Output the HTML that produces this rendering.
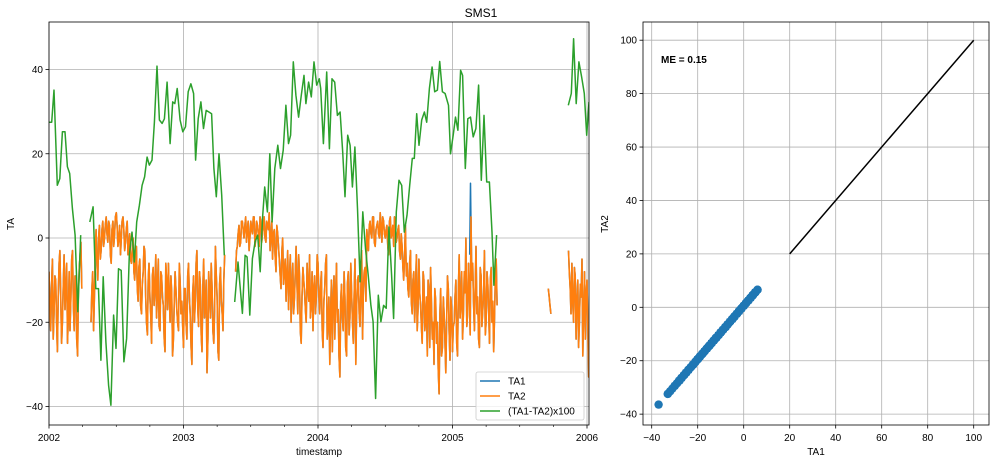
<!DOCTYPE html>
<html><head><meta charset="utf-8"><style>
body{margin:0;background:#fff;}
svg{display:block;font-family:"Liberation Sans","DejaVu Sans",sans-serif;}
</style></head><body>
<svg id="chart" width="996" height="463" viewBox="0 0 996 463" xmlns="http://www.w3.org/2000/svg"></svg>
<script>
// ---- data ----
const ta2Start = 2002.0;
const ta2Step = 0.0125;
const ta2 = [
-8,-22,-5,-18,-10,-27,-6,-15,-20,-4,-12,-25,-8,-14,-3,-22,-10,-28,-7,-1,
null,null,null,null,null,
-20,-8,-14,2,-10,3,-3,4,0,5,-1,3,-6,4,1,6,-2,3,0,5,-3,2,-4,1,
-6,0,-10,-2,-15,-5,-18,-8,-3,-20,-10,-14,-25,-7,-12,-19,-5,-22,-9,-16,-27,-11,-6,-20,-13,-24,-8,-17,-22,-10,-15,-26,
-12,-24,-6,-18,-30,-9,-15,-3,-21,-11,-27,-5,-16,-32,-8,-19,-12,-25,-2,-14,-29,-7,-18,-10,
null,null,null,null,null,null,
-8,-2,3,-1,4,0,5,2,-3,4,1,5,0,3,-2,4,1,5,-1,3,6,0,-5,2,-8,1,
-5,-12,0,-8,-15,-3,-10,-20,-6,-14,-2,-18,-9,-25,-7,-13,-20,-11,-4,-16,-22,-9,-14,-6,
-18,-8,-26,-12,-4,-20,-30,-10,-15,-24,-6,-17,-33,-11,-22,-14,-28,-8,-19,-13,-25,-5,-16,-9,-21,-3,-12,-7,
2,-3,4,0,5,-2,3,1,6,-1,4,0,3,-4,5,1,-2,4,0,3,-5,
-2,-10,3,-6,-14,-3,-18,-8,-12,-22,-5,-16,-25,-10,-19,-28,-13,-7,-24,-30,-15,-20,-37,-12,-26,-18,-32,-9,-22,-14,-27,
-20,-10,-28,-4,-15,-24,-8,0,-18,-12,5,-6,-22,-2,-14,-26,-9,-17,-3,-20,-11,-25,-7,-15,-19,-5,
null,null,null,null,null,null,null,null,null,null,null,null,null,null,null,null,null,null,null,null,null,null,null,null,null,null,null,null,null,null,
-12,-16,
null,null,null,null,null,null,null,null,null,null,
-3,-12,-6,-20,-9,-15,-26,-11,-5,-18,-24,-10,-33
];
// readings taken halfway between the ta2 samples
const ta2Mid = [
-15,-12,-24,-9,-20,-14,-3,-25,-11,-17,-6,-19,-22,-5,-16,-9,-24,-13,-4,-12,
null,null,null,null,null,
-12,-22,-4,-6,0,-5,2,-2,3,1,4,-4,2,-2,5,3,0,-4,4,2,-1,4,-2,-5,
-3,-8,-5,-12,-7,-16,-11,-2,-14,-23,-6,-18,-9,-16,-4,-13,-21,-8,-14,-24,-6,-17,-13,-9,-28,-15,-12,-20,-6,-18,-21,-12,
-20,-9,-14,-26,-13,-20,-6,-17,-8,-23,-12,-19,-10,-24,-14,-6,-22,-17,-9,-27,-11,-15,-22,-4,
null,null,null,null,null,null,
-3,1,-2,4,2,3,-1,4,0,2,5,-2,4,1,5,-1,3,0,4,2,-3,4,1,-4,3,-2,
-9,-3,-11,-5,-9,-17,-4,-12,-18,-8,-11,-4,-22,-14,-10,-17,-6,-15,-19,-8,-12,-18,-4,-13,
-12,-22,-15,-6,-24,-14,-18,-27,-9,-13,-20,-28,-15,-19,-8,-26,-11,-23,-6,-20,-14,-30,-10,-18,-12,-24,-8,-15,
-1,3,1,5,-1,2,4,0,3,5,1,2,-2,4,0,3,5,-1,2,-3,1,
-7,-4,-9,-12,-6,-15,-10,-20,-4,-17,-13,-21,-8,-22,-14,-10,-26,-16,-20,-12,-25,-31,-18,-28,-14,-24,-20,-12,-29,-17,-21,
-14,-25,-12,-19,-8,-18,-13,-21,-6,-23,-10,-15,-12,-18,-24,-7,-21,-13,-23,-8,-17,-10,-20,-27,-9,-16,
null,null,null,null,null,null,null,null,null,null,null,null,null,null,null,null,null,null,null,null,null,null,null,null,null,null,null,null,null,null,
-14,-18,
null,null,null,null,null,null,null,null,null,null,
-8,-18,-15,-7,-24,-10,-20,-14,-28,-8,-13,-21,-26
];
const ta1SpikeT = [2005.128,2005.134,2005.140];
const ta1SpikeV = [-4,13,-3];
const greenT = [
2002.000,2002.020,2002.037,2002.062,2002.080,2002.100,2002.119,2002.137,2002.154,2002.174,2002.194,2002.214,2002.236,null,
2002.303,2002.328,2002.348,2002.368,2002.386,2002.403,2002.423,2002.443,2002.460,2002.480,2002.498,2002.517,2002.537,2002.557,2002.577,2002.597,2002.617,2002.634,2002.652,2002.672,2002.692,2002.711,2002.729,2002.746,2002.766,2002.784,2002.803,2002.821,2002.841,2002.858,2002.878,2002.900,2002.920,2002.935,2002.953,2002.975,2002.995,
2003.015,2003.035,2003.055,2003.075,2003.090,2003.109,2003.129,2003.149,2003.169,2003.189,2003.209,2003.226,2003.244,2003.264,2003.284,2003.303,null,
2003.381,2003.405,2003.438,2003.458,2003.473,2003.493,2003.512,2003.532,2003.552,2003.570,2003.587,2003.604,2003.624,2003.642,2003.659,2003.679,2003.701,2003.721,2003.741,2003.761,2003.781,2003.796,2003.816,2003.836,2003.856,2003.876,2003.896,2003.910,2003.930,2003.950,2003.970,2003.990,
2004.010,2004.020,2004.040,2004.065,2004.085,2004.104,2004.124,2004.144,2004.164,2004.184,2004.201,2004.221,2004.239,2004.256,2004.274,2004.294,2004.313,2004.333,2004.353,2004.373,2004.393,2004.410,2004.428,2004.448,2004.468,2004.488,2004.507,2004.527,2004.547,2004.562,2004.582,2004.602,2004.622,2004.642,2004.662,2004.682,2004.701,2004.716,2004.734,2004.751,2004.771,2004.791,2004.808,2004.828,2004.848,2004.868,2004.888,2004.905,2004.925,2004.945,2004.970,2004.985,
2005.005,2005.022,2005.040,2005.060,2005.075,2005.095,2005.114,2005.134,2005.154,2005.174,2005.194,2005.214,2005.234,2005.254,2005.274,2005.294,2005.308,2005.328,null,
2005.861,2005.883,2005.900,2005.920,2005.940,2005.960,2005.980,2005.998,2006.015
];
const greenV = [
27.5,27.5,35.1,12.5,14.1,25.2,25.2,16.9,15.3,7.0,0.7,-17.5,0.7,null,
3.8,7.4,-12.0,-12.0,-29.0,-9.2,-24.7,-35.0,-39.7,-18.3,-26.2,-7.3,-7.7,-29.4,-23.9,-4.1,1.4,-5.7,3.8,7.8,12.5,14.5,19.2,17.3,18.5,27.5,40.8,28.0,27.2,28.3,37.0,22.4,32.3,31.9,35.5,28.0,25.2,
26.4,34.7,36.6,34.3,18.5,28.3,32.3,26.0,30.3,29.9,29.5,16.5,9.8,20.0,10.2,-4.1,null,
-15.2,-5.7,-17.9,-4.1,-4.5,-18.3,-4.9,-0.9,0.7,-8.0,4.6,12.1,6.2,20.0,3.8,16.5,22.0,16.5,20.8,31.5,22.4,24.4,41.8,33.9,28.7,33.9,38.6,31.9,37.0,33.5,41.8,36.3,
37.8,35.5,22.4,39.4,21.2,37.8,37.0,29.1,29.9,20.4,9.8,24.4,22.0,12.1,21.6,7.0,-10.4,6.2,-2.5,-8.8,-16.0,-19.9,-38.1,-13.6,-19.9,-16.0,-16.7,2.6,-8.8,-19.1,6.2,13.7,12.5,1.4,5.4,12.5,18.9,18.9,29.5,22.0,28.0,29.9,27.5,35.5,40.6,34.7,35.1,41.9,34.7,34.3,31.5,20.0,
24.4,28.7,25.6,39.8,38.6,16.5,28.3,28.7,24.0,26.0,36.3,13.7,29.1,13.3,13.3,1.4,-11.2,0.7,null,
31.5,34.3,47.3,31.9,41.8,38.3,34.3,24.4,32.3
];
const leftYTicks = [-40,-20,0,20,40];
const leftXTicks = [2002,2003,2004,2005,2006];
const rightXTicks = [-40,-20,0,20,40,60,80,100];
const rightYTicks = [-40,-20,0,20,40,60,80,100];
const refLineX = [20,100];
const refLineY = [20,100];
const meLabel = "ME = 0.15";

// ---- axes ----
const L = {x0:49,x1:589,y0:22,y1:425};
const R = {x0:643,x1:989,y0:22,y1:425};
const lx = t => 49 + (t-2002)*134.5;
const ly = v => 238 - v*4.2125;
const rx = v => 743.7 + v*2.3;
const ry = v => 307.3 - v*2.671;

const svg = document.getElementById('chart');
const NS = 'http://www.w3.org/2000/svg';
function mk(tag, attrs, parent){
  const e = document.createElementNS(NS, tag);
  for (const k in attrs) e.setAttribute(k, attrs[k]);
  (parent||svg).appendChild(e);
  return e;
}
function txt(s, attrs, parent){ const e = mk('text', attrs, parent); e.textContent = s; return e; }

const defs = mk('defs',{});
const cpL = mk('clipPath',{id:'cpL'},defs); mk('rect',{x:L.x0,y:L.y0,width:L.x1-L.x0,height:L.y1-L.y0},cpL);
const cpR = mk('clipPath',{id:'cpR'},defs); mk('rect',{x:R.x0,y:R.y0,width:R.x1-R.x0,height:R.y1-R.y0},cpR);

// merge samples in time order
const allT = [], allV = [];
for (let i=0;i<ta2.length;i++){
  allT.push(ta2Start + i*ta2Step); allV.push(ta2[i]);
  allT.push(ta2Start + (i+0.5)*ta2Step); allV.push(ta2Mid[i]);
}

// ---------- LEFT AXES ----------
const gL = mk('g',{});


const gridL = mk('g',{stroke:'#b0b0b0','stroke-width':0.8},gL);


leftYTicks.forEach(v=>{ mk('line',{x1:L.x0,x2:L.x1,y1:ly(v),y2:ly(v)},gridL); });
leftXTicks.forEach(t=>{ mk('line',{x1:lx(t),x2:lx(t),y1:L.y0,y2:L.y1},gridL); });

function pathFrom(xs, ys, fx, fy){
  let d='', pen=false;
  for(let i=0;i<xs.length;i++){
    if(xs[i]===null||ys[i]===null){pen=false;continue;}
    d += (pen?'L':'M') + fx(xs[i]).toFixed(1)+','+fy(ys[i]).toFixed(1);
    pen=true;
  }
  return d;
}
const series = mk('g',{'clip-path':'url(#cpL)',fill:'none','stroke-linejoin':'round'},gL);
const p1 = mk('path',{d:pathFrom(allT,allV,lx,ly),stroke:'#1f77b4','stroke-width':1.5},series);


const p1s = mk('path',{d:pathFrom(ta1SpikeT,ta1SpikeV,lx,ly),stroke:'#1f77b4','stroke-width':1.5},series);


const p2 = mk('path',{d:pathFrom(allT,allV,lx,ly),stroke:'#ff7f0e','stroke-width':1.6},series);


const p3 = mk('path',{d:pathFrom(greenT,greenV,lx,ly),stroke:'#2ca02c','stroke-width':1.5},series);



const frameL = mk('rect',{x:L.x0,y:L.y0,width:L.x1-L.x0,height:L.y1-L.y0,fill:'none',stroke:'#000','stroke-width':0.8},gL);


leftYTicks.forEach(v=>{
  mk('line',{x1:L.x0-3.5,x2:L.x0,y1:ly(v),y2:ly(v),stroke:'#000','stroke-width':0.8},gL);
  const t = txt(v<0?'\u2212'+(-v):String(v),{x:L.x0-6,y:ly(v)+3.5,'font-size':10,'text-anchor':'end',fill:'#000'},gL);
  
  
});
leftXTicks.forEach(tk=>{
  mk('line',{x1:lx(tk),x2:lx(tk),y1:L.y1,y2:L.y1+3.5,stroke:'#000','stroke-width':0.8},gL);
  const t = txt(String(tk),{x:lx(tk),y:L.y1+16,'font-size':10,'text-anchor':'middle',fill:'#000'},gL);
  
  
});
for(let y=2002;y<2006;y++){ [0.25,0.5,0.75].forEach(q=>{
  mk('line',{x1:lx(y+q),x2:lx(y+q),y1:L.y1,y2:L.y1+2,stroke:'#000','stroke-width':0.6},gL);
});}
const xlabL = txt('timestamp',{x:(L.x0+L.x1)/2,y:455,'font-size':10,'text-anchor':'middle'},gL);


const ylabL = txt('TA',{x:14,y:224,'font-size':10,'text-anchor':'middle',transform:'rotate(-90 14 224)'},gL);


const title = txt('SMS1',{x:481,y:17,'font-size':12,'text-anchor':'middle'});



const lg = mk('g',{},gL);


mk('rect',{x:476,y:372,width:108,height:48,rx:2,fill:'#fff','fill-opacity':0.8,stroke:'#ccc','stroke-width':0.8},lg);
[['TA1','#1f77b4'],['TA2','#ff7f0e'],['(TA1-TA2)x100','#2ca02c']].forEach((e,i)=>{
  const y = 381 + i*15;
  const ent = mk('g',{},lg);
  
  
  mk('line',{x1:480,x2:500,y1:y,y2:y,stroke:e[1],'stroke-width':1.5},ent);
  txt(e[0],{x:508,y:y+3.5,'font-size':10},ent);
});

// ---------- RIGHT AXES ----------
const gR = mk('g',{});


const gridR = mk('g',{stroke:'#b0b0b0','stroke-width':0.8},gR);


rightXTicks.forEach(v=>mk('line',{x1:rx(v),x2:rx(v),y1:R.y0,y2:R.y1},gridR));
rightYTicks.forEach(v=>mk('line',{x1:R.x0,x2:R.x1,y1:ry(v),y2:ry(v)},gridR));
const sc = mk('g',{'clip-path':'url(#cpR)',fill:'#1f77b4'},gR);


for(let i=0;i<allV.length;i++){
  if(allV[i]===null) continue;
  mk('circle',{cx:rx(allV[i]).toFixed(1),cy:(ry(allV[i])-1.5).toFixed(1),r:4.2},sc);
}
const ref = mk('path',{d:pathFrom(refLineX,refLineY,rx,ry),stroke:'#000','stroke-width':1.5,fill:'none'},gR);


const frameR = mk('rect',{x:R.x0,y:R.y0,width:R.x1-R.x0,height:R.y1-R.y0,fill:'none',stroke:'#000','stroke-width':0.8},gR);


rightXTicks.forEach(v=>{
  mk('line',{x1:rx(v),x2:rx(v),y1:R.y1,y2:R.y1+3.5,stroke:'#000','stroke-width':0.8},gR);
  const t = txt(v<0?'\u2212'+(-v):String(v),{x:rx(v),y:R.y1+16,'font-size':10,'text-anchor':'middle'},gR);
  
  
});
rightYTicks.forEach(v=>{
  mk('line',{x1:R.x0-3.5,x2:R.x0,y1:ry(v),y2:ry(v),stroke:'#000','stroke-width':0.8},gR);
  const t = txt(v<0?'\u2212'+(-v):String(v),{x:R.x0-6,y:ry(v)+3.5,'font-size':10,'text-anchor':'end'},gR);
  
  
});
const xlabR = txt('TA1',{x:816,y:455,'font-size':10,'text-anchor':'middle'},gR);


const ylabR = txt('TA2',{x:608,y:224,'font-size':10,'text-anchor':'middle',transform:'rotate(-90 608 224)'},gR);


const me = txt(meLabel,{x:661,y:63,'font-size':10,'font-weight':'bold'},gR);


</script>
</body></html>
